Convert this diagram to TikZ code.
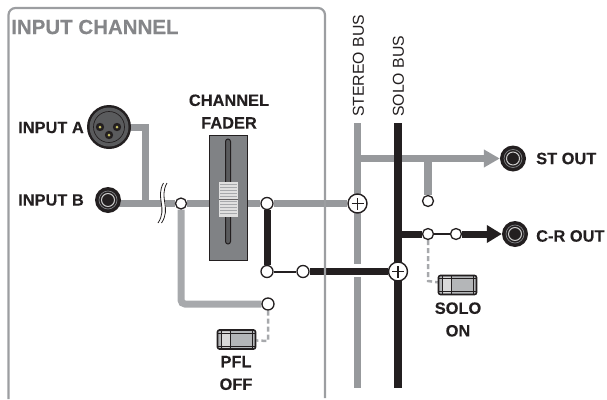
\documentclass[tikz,border=0pt]{standalone}
\usepackage{fontspec}
\setmainfont{Liberation Sans}[BoldFeatures={FakeBold=0.25}]
\usetikzlibrary{arrows.meta,backgrounds,calc}
\definecolor{busgray}{HTML}{97999C}
\definecolor{pflgray}{HTML}{A7A9AC}
\definecolor{boxgray}{HTML}{9C9EA1}
\definecolor{inkblack}{HTML}{231F20}
\definecolor{fadergray}{HTML}{808285}
\tikzset{
  grayline/.style={draw=busgray,line width=7.5pt},
  blackline/.style={draw=inkblack,line width=8pt},
  thinblack/.style={draw=inkblack,line width=2pt},
  ctlline/.style={draw=pflgray,line width=2.5pt,dash pattern=on 5pt off 3pt},
  lbl/.style={font=\bfseries\fontsize{16.4}{18}\selectfont,text=inkblack,inner sep=0pt,align=center},
  buslbl/.style={font=\fontsize{15.8}{17}\selectfont,text=inkblack,inner sep=0pt,rotate=90,anchor=west},
  junction/.style={circle,draw=inkblack,fill=white,line width=1.3pt,minimum size=12pt,inner sep=0pt},
  smalljunction/.style={junction,minimum size=11pt},
  summer/.style={circle,draw=inkblack,fill=white,line width=1.4pt,minimum size=19pt,inner sep=0pt,
    path picture={\draw[inkblack,line width=1.3pt]
      ([xshift=-6pt]path picture bounding box.center)--([xshift=6pt]path picture bounding box.center)
      ([yshift=-6pt]path picture bounding box.center)--([yshift=6pt]path picture bounding box.center);}},
  jack/.style={circle,fill=inkblack,minimum size=26pt,inner sep=0pt,
    path picture={
      \draw[fadergray,line width=.7pt] (path picture bounding box.center) circle (9pt);
      \draw[white!80!black,line width=1pt] (path picture bounding box.center) circle (6.5pt);}},
  switchbox/.style={draw=inkblack,rounded corners=2pt,line width=1.6pt,fill=pflgray!85!white,minimum width=38pt,minimum height=19pt,inner sep=0pt,
    path picture={
      \fill[white!85!black] ([xshift=-15pt,yshift=-8pt]path picture bounding box.center) rectangle ([xshift=-6pt,yshift=8pt]path picture bounding box.center);
      \draw[inkblack,line width=1pt]
        ([xshift=-15pt,yshift=-10pt]path picture bounding box.center)--([xshift=-15pt,yshift=10pt]path picture bounding box.center)
        ([xshift=-6pt,yshift=-10pt]path picture bounding box.center)--([xshift=-6pt,yshift=10pt]path picture bounding box.center)
        ([xshift=16pt,yshift=-10pt]path picture bounding box.center)--([xshift=16pt,yshift=10pt]path picture bounding box.center)
        ([xshift=-19pt,yshift=6.5pt]path picture bounding box.center)--([xshift=19pt,yshift=6.5pt]path picture bounding box.center)
        ([xshift=-19pt,yshift=-6.5pt]path picture bounding box.center)--([xshift=19pt,yshift=-6.5pt]path picture bounding box.center);}},
}
\begin{document}
\begin{tikzpicture}[x=1pt,y=-1pt]
\useasboundingbox (0,0) rectangle (607,399);
% input channel frame
\draw[boxgray,line width=2.2pt,rounded corners=7pt] (8.5,399) -- (8.5,8) -- (325,8) -- (325,398);
\node[anchor=west,font=\bfseries\fontsize{20.5}{23}\selectfont,text=boxgray!85!black,inner sep=0pt] (title) at (11,27) {INPUT CHANNEL};

% nodes
\node[circle,fill=inkblack,minimum size=44pt,inner sep=0pt] (xlr) at (109,127) {};
\fill[fadergray!70!black] (xlr.center) circle (19.5pt);
\draw[inkblack,line width=.7pt] (xlr.center) circle (15.5pt);
\foreach \dx/\dy in {-9/0,8/0,0/8}{
  \fill[inkblack] ($(xlr.center)+(\dx,\dy)$) circle (4.2pt);
  \fill[yellow!50!gray] ($(xlr.center)+(\dx,\dy)$) circle (1.5pt);
}
\node[jack] (inb) at (108,200) {};
\node[smalljunction] (j1) at (181,203.5) {};
\node[junction] (j2) at (267,203.5) {};
\node[junction] (j3) at (267,271.5) {};
\node[junction] (j4) at (303,271.5) {};
\node[junction] (pfl) at (268,304) {};
\node[summer] (sst) at (357.5,203.5) {};
\node[summer] (ssolo) at (398,271.5) {};
\node[jack] (stout) at (513,158.5) {};
\node[jack] (crout) at (515,234) {};
\node[smalljunction] (j5) at (428,201) {};
\node[smalljunction] (j6) at (428,234) {};
\node[smalljunction] (j7) at (456,234) {};
\node[switchbox] (swpfl) at (236.5,339.5) {};
\node[switchbox] (swsolo) at (457.5,285) {};

% fader
\node[draw=inkblack,fill=fadergray,line width=1pt,minimum width=38pt,minimum height=125pt,inner sep=0pt] (fader) at (228,197.5) {};
\draw[inkblack,fill=fadergray!70!black,line width=1pt,rounded corners=2.5pt] (225.5,139) rectangle (230.5,244);
\fill[white!88!black] (219,181.5) rectangle (238,217);
\foreach \yy in {184,187,190,193,196,201,204,207,210,213}{\draw[pflgray,line width=.7pt] (220,\yy) -- (237,\yy);}
\draw[inkblack!70,line width=1pt] (219,199) -- (238,199);

% coordinates
\coordinate (sttop) at (357.5,123);
\coordinate (stgap1) at (357.5,264);
\coordinate (stgap2) at (357.5,277);
\coordinate (stbot) at (357.5,388);
\coordinate (sotop) at (398,123);
\coordinate (sobot) at (398,388);
\coordinate (sttap) at (357.5,158.5);
\coordinate (brtap) at (428,158.5);
\coordinate (crtap) at (398,234);
\coordinate (xlrbend) at (145,127);
\coordinate (plbend) at (181,304);
\coordinate (pflbend) at (268,341);
\coordinate (solobend) at (428,281);

% connectors under the nodes
\begin{scope}[on background layer]
  \draw[grayline] (sttop) -- (stgap1);
  \draw[grayline] (stgap2) -- (stbot);
  \draw[grayline] (sttap) -- (brtap);
  \draw[grayline,-{Triangle[length=16pt,width=17pt]}] (brtap) -- (stout);
  \draw[grayline] (brtap) -- (j5);
  \draw[blackline] (sotop) -- (sobot);
  \draw[grayline,line width=7pt] (xlr.center) -- (xlrbend) -- (xlrbend |- j1);
  \draw[grayline,line width=7pt] (inb.center |- j1) -- (j1);
  \draw[grayline,line width=7pt] (j1) -- (fader.west |- j1);
  \draw[grayline,line width=7pt] (fader.east |- j2) -- (j2);
  \draw[grayline,line width=7pt] (j2) -- (sst);
  \draw[draw=pflgray,line width=7pt,rounded corners=4pt] (j1) -- (plbend) -- (pfl);
  \draw[blackline,line width=7pt] (j2) -- (j3);
  \draw[thinblack] (j3) -- (j4);
  \draw[blackline,line width=7pt] (j4) -- (ssolo);
  \draw[blackline,line width=7pt] (crtap) -- (j6);
  \draw[thinblack] (j6) -- (j7);
  \draw[blackline,line width=7pt,-{Triangle[length=15pt,width=17pt]}] (j7) -- (crout);
  \draw[ctlline] (pfl) -- (pflbend) -- (swpfl);
  \draw[ctlline] (j6) -- (solobend) -- (swsolo);
\end{scope}

% cable break
\fill[white] (163.5,183) .. controls (155,198) and (168,208) .. (158,223) -- (162,223) .. controls (172,208) and (159,198) .. (167.5,183) -- cycle;
\draw[inkblack,line width=.8pt] (163.5,183) .. controls (155,198) and (168,208) .. (158,223);
\draw[inkblack,line width=.8pt] (167,183) .. controls (158.5,198) and (171.5,208) .. (161.5,223);

% labels
\node[lbl,anchor=west] (la) at (18,127.5) {INPUT A};
\node[lbl,anchor=west] (lb) at (18,200) {INPUT B};
\node[lbl] (lf) at (229,111.5) {CHANNEL\\[4.6pt]FADER};
\node[buslbl] (ls) at (358.5,117) {STEREO BUS};
\node[buslbl] (lo) at (398.5,117) {SOLO BUS};
\node[lbl,anchor=west] (ls1) at (536,158.5) {ST OUT};
\node[lbl,anchor=west] (ls2) at (536,236) {C-R OUT};
\node[lbl] (lson) at (458,319.5) {SOLO\\[4.6pt]ON};
\node[lbl] (lpfl) at (236,373) {PFL\\[4.6pt]OFF};
\end{tikzpicture}
\end{document}
